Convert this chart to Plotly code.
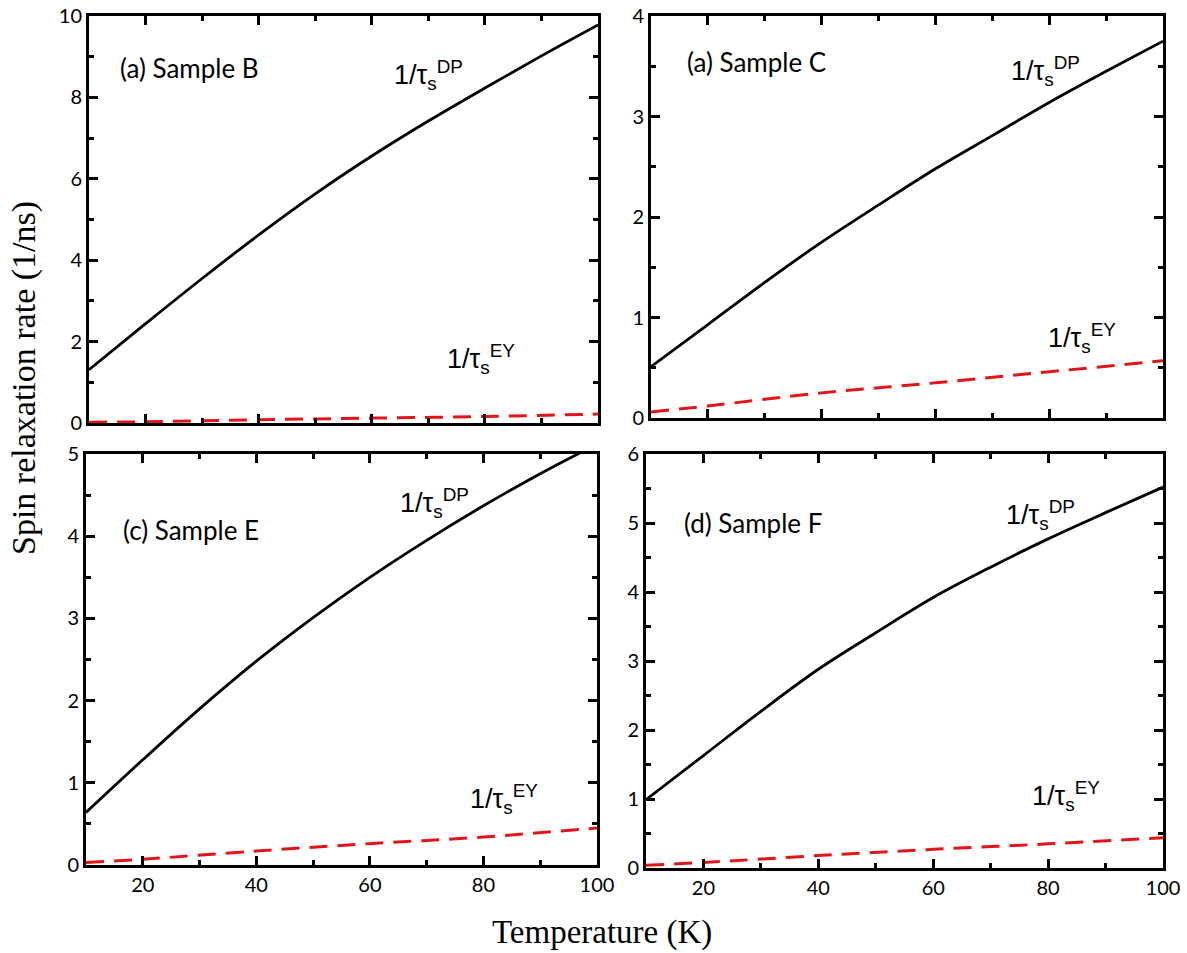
import plotly.graph_objects as go

# ---------------- data ----------------
temperature = [10, 20, 30, 40, 50, 60, 70, 80, 90, 100]
temperature_ey = [10, 20, 40, 60, 80, 100]

dp_B = [1.31, 2.44, 3.55, 4.62, 5.63, 6.56, 7.42, 8.23, 9.02, 9.78]
dp_C = [0.51, 0.93, 1.35, 1.75, 2.12, 2.48, 2.81, 3.14, 3.45, 3.75]
dp_E = [0.64, 1.28, 1.90, 2.48, 3.01, 3.50, 3.95, 4.37, 4.76, 5.12]
dp_F = [0.99, 1.63, 2.27, 2.88, 3.41, 3.92, 4.36, 4.77, 5.15, 5.52]

ey_B = [0.02, 0.03, 0.08, 0.12, 0.16, 0.22]
ey_C = [0.06, 0.12, 0.25, 0.35, 0.46, 0.57]
ey_E = [0.03, 0.07, 0.17, 0.26, 0.34, 0.45]
ey_F = [0.04, 0.08, 0.18, 0.27, 0.35, 0.44]

panel_labels = ["(a) Sample B", "(a) Sample C", "(c) Sample E", "(d) Sample F"]
y_max = [10, 4, 5, 6]
y_dtick = [2, 1, 1, 1]
x_ticks = [20, 40, 60, 80, 100]
x_title = "Temperature (K)"
y_title = "Spin relaxation rate (1/ns)"
dp_text = "1/τ<sub>s</sub><sup>DP</sup>"
ey_text = "1/τ<sub>s</sub><sup>EY</sup>"

# annotation anchor points (data coords) per panel
sample_pos = [(15.2, 8.72), (16.0, 3.54), (16.2, 4.08), (16.3, 5.0)]
dp_pos = [(63.5, 8.55), (73.0, 3.45), (65.0, 4.40), (72.3, 5.12)]
ey_pos = [(73.0, 1.58), (79.4, 0.80), (77.3, 0.80), (76.9, 1.05)]

# ---------------- layout geometry ----------------
W, H = 1187, 953
boxes = [  # (left, top, right, bottom) in px
    (89, 16, 598, 423),
    (651, 16, 1163, 418),
    (86, 454, 597, 865),
    (646, 454, 1163, 868),
]

dps = [dp_B, dp_C, dp_E, dp_F]
eys = [ey_B, ey_C, ey_E, ey_F]

fig = go.Figure()
RED = "#e3151a"

for i in range(4):
    xa = "x" if i == 0 else f"x{i+1}"
    ya = "y" if i == 0 else f"y{i+1}"
    fig.add_trace(go.Scatter(x=temperature, y=dps[i], mode="lines",
                             line=dict(color="black", width=2.8, shape="spline"),
                             xaxis=xa, yaxis=ya, showlegend=False))
    fig.add_trace(go.Scatter(x=temperature_ey, y=eys[i], mode="lines",
                             line=dict(color=RED, width=3, dash="18px,10px", shape="spline"),
                             xaxis=xa, yaxis=ya, showlegend=False))

    l, t, r, b = boxes[i]
    xdom = [l / W, r / W]
    ydom = [1 - b / H, 1 - t / H]
    common = dict(showgrid=False, zeroline=False, showline=True, linecolor="black",
                  linewidth=3, mirror="allticks", ticks="inside", ticklen=9,
                  tickwidth=2.5, tickcolor="black", automargin=False,
                  tickfont=dict(family="Lato", size=20, color="black"))
    xkey = "xaxis" if i == 0 else f"xaxis{i+1}"
    ykey = "yaxis" if i == 0 else f"yaxis{i+1}"
    fig.layout[xkey] = dict(common, domain=xdom, range=[10, 100], anchor=ya,
                            tickmode="array", tickvals=x_ticks,
                            minor=dict(ticks="inside", ticklen=5, tickwidth=2.5,
                                       tickcolor="black", dtick=10, tick0=0),
                            showticklabels=(i >= 2))
    fig.layout[ykey] = dict(common, domain=ydom, range=[0, y_max[i]], anchor=xa,
                            dtick=y_dtick[i], tick0=0,
                            minor=dict(ticks="inside", ticklen=5, tickwidth=2.5,
                                       tickcolor="black", dtick=y_dtick[i] / 2, tick0=0))

    fig.add_annotation(x=sample_pos[i][0], y=sample_pos[i][1], xref=xa, yref=ya,
                       text=panel_labels[i], showarrow=False, xanchor="left",
                       yanchor="middle", font=dict(family="Lato", size=26, color="black"))
    fig.add_annotation(x=dp_pos[i][0], y=dp_pos[i][1], xref=xa, yref=ya,
                       text=dp_text, showarrow=False, xanchor="left",
                       yanchor="middle", font=dict(family="Liberation Sans", size=27, color="black"))
    fig.add_annotation(x=ey_pos[i][0], y=ey_pos[i][1], xref=xa, yref=ya,
                       text=ey_text, showarrow=False, xanchor="left",
                       yanchor="middle", font=dict(family="Liberation Sans", size=27, color="black"))

fig.add_annotation(x=602 / W, y=1 - 932 / H, xref="paper", yref="paper", text=x_title,
                   showarrow=False, xanchor="center", yanchor="middle",
                   font=dict(family="Liberation Serif", size=33, color="black"))
fig.add_annotation(x=24 / W, y=1 - 378 / H, xref="paper", yref="paper", text=y_title,
                   showarrow=False, xanchor="center", yanchor="middle", textangle=-90,
                   font=dict(family="Liberation Serif", size=34, color="black"))

fig.update_layout(template="none", width=W, height=H,
                  margin=dict(l=0, r=0, t=0, b=0, pad=0, autoexpand=False),
                  paper_bgcolor="white", plot_bgcolor="white", showlegend=False)

fig.write_html("out.html", config={"displayModeBar": False},
               post_script="document.body.style.margin='0';document.body.style.overflow='hidden';")
